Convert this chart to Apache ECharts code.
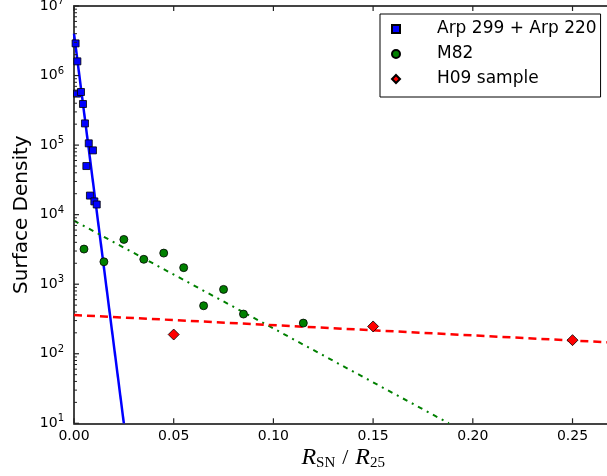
<!DOCTYPE html>
<html>
<head>
<meta charset="utf-8">
<style>
    html, body { margin: 0; padding: 0; background: #fff; }
    #main { width: 607px; height: 476px; }
</style>
<script src="https://cdn.jsdelivr.net/npm/echarts@6/dist/echarts.min.js"></script>
</head>
<body>
<div id="main"></div>
<script>
    // Arp 299 + Arp 220 (squares)
    let arpX = [0.0008, 0.0017, 0.0015, 0.0035, 0.0045, 0.0055, 0.0074, 0.0095, 0.0062, 0.0080, 0.0102, 0.0114];
    let arpY = [2.9e6, 1.6e6, 5.5e5, 5.8e5, 3.9e5, 2.05e5, 1.06e5, 8.4e4, 5.0e4, 1.88e4, 1.55e4, 1.4e4];
    // M82 (circles)
    let m82X = [0.005, 0.015, 0.025, 0.035, 0.045, 0.055, 0.065, 0.075, 0.085, 0.115];
    let m82Y = [3200, 2100, 4400, 2280, 2800, 1730, 490, 842, 372, 276];
    // H09 sample (diamonds)
    let h09X = [0.05, 0.15, 0.25];
    let h09Y = [189, 247, 157];
    // fitted lines (end points)
    let arpFit = [[0, 4.0e6], [0.025, 10]];
    let m82Fit = [[0, 8200], [0.188, 10]];
    let h09Fit = [[0, 361], [0.27, 145]];
    // tick values
    let xTicks = [0, 0.05, 0.10, 0.15, 0.20, 0.25];
    let yMajorTicks = [10, 1e2, 1e3, 1e4, 1e5, 1e6, 1e7];
    let yMinorTicks = [];
    for (let d = 10; d < 1e7; d *= 10) {
        for (let k = 2; k <= 9; k++) yMinorTicks.push(k * d);
    }

    function zip(xs, ys) {
        return xs.map((x, i) => [x, ys[i]]);
    }

    let font = 'DejaVu Sans';
    let axisColor = '#444';
    let tickColor = '#222';

    // short tick marks drawn inside the frame
    function tickLine(x1, y1, x2, y2, w) {
        return {
            type: 'line',
            shape: {x1: x1, y1: y1, x2: x2, y2: y2},
            style: {stroke: tickColor, lineWidth: w}
        };
    }

    let myChart = echarts.init(document.getElementById('main'));
    myChart.setOption({
        animation: false,
        grid: {
            left: 74,
            top: 6,
            right: -5.4,
            bottom: 52.7,
            containLabel: false,
            outerBoundsMode: 'none'
        },
        legend: {
            left: 380,
            top: 14,
            orient: 'vertical',
            data: ['Arp 299 + Arp 220', 'M82', 'H09 sample'],
            itemWidth: 8,
            itemHeight: 8,
            itemGap: 8,
            padding: [6.5, 4, 9.5, 11],
            borderColor: '#000',
            borderWidth: 1,
            backgroundColor: '#fff',
            textStyle: {
                fontFamily: font,
                fontSize: 17,
                color: '#000',
                padding: [0, 0, 0, 32]
            }
        },
        xAxis: [
            {
                type: 'value',
                min: 0,
                max: 0.27,
                interval: 0.05,
                position: 'bottom',
                name: '{i|R}{s|SN}{n|/}{i|R}{s|25}',
                nameLocation: 'middle',
                nameGap: 22,
                nameMoveOverlap: false,
                nameTextStyle: {
                    rich: {
                        i: {fontFamily: 'Liberation Serif', fontStyle: 'italic', fontSize: 24, color: '#000'},
                        s: {fontFamily: 'Liberation Serif', fontSize: 15, color: '#000', padding: [10, 0, 0, 0]},
                        n: {fontFamily: 'Liberation Serif', fontSize: 22, color: '#000', padding: [0, 7, 0, 7]}
                    }
                },
                axisLine: {show: true, onZero: false, lineStyle: {color: axisColor, width: 2}},
                axisTick: {show: false},
                axisLabel: {
                    margin: 6,
                    showMaxLabel: false,
                    fontFamily: font,
                    fontSize: 14,
                    color: '#000',
                    formatter: function (val) {
                        return val.toFixed(2);
                    }
                },
                splitLine: {show: false}
            },
            {
                type: 'value',
                min: 0,
                max: 0.27,
                interval: 0.05,
                position: 'top',
                axisLine: {show: true, onZero: false, lineStyle: {color: axisColor, width: 2}},
                axisTick: {show: false},
                axisLabel: {show: false},
                splitLine: {show: false}
            }
        ],
        yAxis: {
            type: 'log',
            logBase: 10,
            min: 10,
            max: 1e7,
            interval: 1,
            name: 'Surface Density',
            nameLocation: 'middle',
            nameGap: 42,
            nameRotate: 90,
            nameMoveOverlap: false,
            nameTextStyle: {fontFamily: font, fontSize: 20, color: '#000'},
            axisLine: {show: true, lineStyle: {color: axisColor, width: 2}},
            axisTick: {show: false},
            axisLabel: {
                margin: 10,
                formatter: function (val) {
                    return '{b|10}{s|' + Math.round(Math.log10(val)) + '}';
                },
                rich: {
                    b: {fontFamily: font, fontSize: 14, color: '#000'},
                    s: {fontFamily: font, fontSize: 10, color: '#000', padding: [0, 0, 9, 0]}
                }
            },
            splitLine: {show: false}
        },
        series: [
            {
                type: 'line',
                data: arpFit,
                symbol: 'none',
                lineStyle: {color: '#0000ff', width: 2.5},
                z: 2
            },
            {
                type: 'line',
                data: m82Fit,
                symbol: 'none',
                lineStyle: {color: '#008000', width: 2, type: [5, 5, 2, 5]},
                z: 2
            },
            {
                type: 'line',
                data: h09Fit,
                symbol: 'none',
                lineStyle: {color: '#ff0000', width: 2.5, type: [8, 5]},
                z: 2
            },
            {
                name: 'Arp 299 + Arp 220',
                type: 'scatter',
                data: zip(arpX, arpY),
                symbol: 'rect',
                symbolSize: 7,
                itemStyle: {color: '#0000ff', borderColor: '#000', borderWidth: 0.8, opacity: 1},
                z: 3
            },
            {
                name: 'M82',
                type: 'scatter',
                data: zip(m82X, m82Y),
                symbol: 'circle',
                symbolSize: 8,
                itemStyle: {color: '#008000', borderColor: '#000', borderWidth: 0.8, opacity: 1},
                z: 3
            },
            {
                name: 'H09 sample',
                type: 'scatter',
                data: zip(h09X, h09Y),
                symbol: 'diamond',
                symbolSize: 11,
                itemStyle: {color: '#ff0000', borderColor: '#000', borderWidth: 0.8, opacity: 1},
                z: 3
            },
            {
                // x ticks, bottom and top
                type: 'custom',
                silent: true,
                clip: false,
                z: 4,
                data: xTicks.map(v => [v, 10]),
                renderItem: function (params, api) {
                    let lo = api.coord([api.value(0), 10]);
                    let hi = api.coord([api.value(0), 1e7]);
                    return {
                        type: 'group',
                        children: [
                            tickLine(lo[0], lo[1], lo[0], lo[1] - 5, 1.2),
                            tickLine(hi[0], hi[1], hi[0], hi[1] + 5, 1.2)
                        ]
                    };
                }
            },
            {
                // y ticks, major and minor
                type: 'custom',
                silent: true,
                clip: false,
                z: 4,
                data: yMajorTicks.map(v => [0, v, 5]).concat(yMinorTicks.map(v => [0, v, 3])),
                renderItem: function (params, api) {
                    let p = api.coord([0, api.value(1)]);
                    let len = api.value(2);
                    return tickLine(p[0], p[1], p[0] + len, p[1], len > 4 ? 1.2 : 1);
                }
            }
        ]
    });
</script>
</body>
</html>
